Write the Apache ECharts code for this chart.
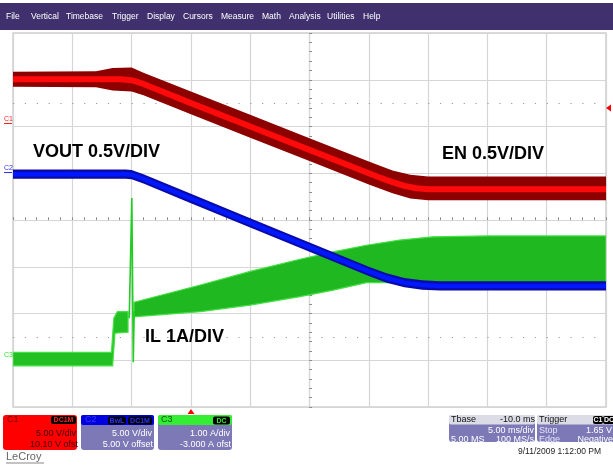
<!DOCTYPE html>
<html><head><meta charset="utf-8">
<script src="https://cdn.jsdelivr.net/npm/echarts@6/dist/echarts.min.js"></script>
<style>html,body{margin:0;padding:0;background:#fff}#c{width:613px;height:466px}</style>
</head><body><div id="c"></div>
<script>
// ---------- DATA (time in ms, vertical in screen divisions) ----------
const timeMin = -15, timeMax = 35, timeStep = 5;   // 5 ms/div, 10 divisions
const divMin = -4, divMax = 4, divStep = 1;         // 8 vertical divisions

// EN (C1, red)
const enCenter = [[-15,3.01],[-6,3.01],[-5,2.99],[-4,2.91],[0,2.5],[5,2.0],[10,1.5],[15,1.0],[16,0.9],[17,0.81],[18,0.73],[19,0.68],[20,0.66],[35,0.66]];
const enTop    = [[-15,3.17],[-8,3.18],[-6.6,3.25],[-5,3.26],[-4,3.15],[0,2.75],[5,2.25],[10,1.75],[15,1.25],[17,1.06],[18.5,0.97],[20,0.93],[35,0.93]];
const enBottom = [[-15,2.85],[-8,2.84],[-6.6,2.77],[-5,2.75],[-4,2.67],[0,2.26],[5,1.76],[10,1.26],[15,0.76],[17,0.57],[18.5,0.46],[20,0.42],[35,0.42]];

// VOUT (C2, blue)
const voutCenter = [[-15,0.98],[-5.5,0.98],[-5,0.97],[-4,0.88],[0,0.46],[5,-0.06],[10,-0.58],[15,-1.1],[16.5,-1.24],[18,-1.34],[19.5,-1.39],[21,-1.41],[35,-1.41]];
const voutTop    = [[-15,1.08],[-5.5,1.08],[-5,1.07],[-4,0.98],[0,0.56],[5,0.04],[10,-0.48],[15,-1.0],[16.5,-1.14],[18,-1.24],[19.5,-1.29],[21,-1.31],[35,-1.31]];
const voutBottom = [[-15,0.88],[-5.5,0.88],[-5,0.87],[-4,0.78],[0,0.36],[5,-0.16],[10,-0.68],[15,-1.2],[16.5,-1.34],[18,-1.44],[19.5,-1.49],[21,-1.51],[35,-1.51]];

// IL (C3, green)
const ilStepTop    = [[-15,-2.83],[-6.7,-2.83],[-6.5,-2.1],[-6.2,-1.96],[-5.3,-1.96]];
const ilStepBottom = [[-15,-3.12],[-6.6,-3.12],[-6.4,-2.42],[-5.3,-2.4]];
const ilSpike      = [[-5.2,-2.1],[-4.98,0.47],[-4.86,-3.04],[-4.78,-1.95]];
const ilTop        = [[-4.8,-1.76],[0.8,-1.39],[5,-1.1],[9.2,-0.84],[12,-0.68],[14.8,-0.54],[17.6,-0.43],[20.4,-0.36],[25,-0.34],[35,-0.34]];
const ilBottom     = [[-4.8,-2.07],[0.8,-1.96],[5,-1.82],[9.2,-1.64],[12,-1.5],[14.8,-1.34],[16.5,-1.34],[35,-1.34]];

// Texts
const menuItems = ['File','Vertical','Timebase','Trigger','Display','Cursors','Measure','Math','Analysis','Utilities','Help'];
const labelVout = 'VOUT 0.5V/DIV', labelEn = 'EN 0.5V/DIV', labelIl = 'IL 1A/DIV';
const c1Lines = ['5.00 V/div','10.10 V ofst'];
const c2Lines = ['5.00 V/div','5.00 V offset'];
const c3Lines = ['1.00 A/div','-3.000 A ofst'];
const tbaseHead = ['Tbase','-10.0 ms'], tbaseLines = ['5.00 ms/div','5.00 MS','100 MS/s'];
const trigHead = 'Trigger', trigLines = [['Stop','1.65 V'],['Edge','Negative']];
const dateText = '9/11/2009 1:12:00 PM';

// ---------- LAYOUT ----------
const FONT = '"Liberation Sans", Arial, sans-serif';
const menuX = [6,31,66,112,147,183,221,262,289,327,363];
const LAV = '#7c79b6';

function T(x,y,s,fill,size,align,weight){
  return {type:'text', x:x, y:y, z:100, silent:true, style:{text:s, fill:fill, font:(weight||'normal')+' '+size+'px '+FONT,
    textAlign:align||'left', align:align||'left', textVerticalAlign:'middle', verticalAlign:'middle'}};
}
function R(x,y,w,h,fill,r,stroke){
  return {type:'rect', z:90, silent:true, shape:{x:x,y:y,width:w,height:h,r:r||0}, style:{fill:fill, stroke:stroke||null, lineWidth:1}};
}
function pill(x,y,w,s,color){
  return [R(x,y,w,8,'#000',2), T(x+w/2,y+4.3,s,color,7,'center','bold')];
}

const g = [];
// menu bar
g.push(R(0,3,613,27,'#40306e'));
menuItems.forEach((m,i)=>g.push(T(menuX[i],17,m,'#ffffff',8.5,'left')));
// annotations
g.push(T(33,152,labelVout,'#000',18,'left','bold'));
g.push(T(442,154,labelEn,'#000',18,'left','bold'));
g.push(T(145,337,labelIl,'#000',18,'left','bold'));
// channel markers
g.push(T(4,119,'C1','#ff2020',7,'left'));
g.push({type:'line',z:100,silent:true,shape:{x1:4,y1:123.5,x2:12,y2:123.5},style:{stroke:'#ff2020',lineWidth:1}});
g.push(T(4,168,'C2','#3030ff',7,'left'));
g.push({type:'line',z:100,silent:true,shape:{x1:4,y1:172.5,x2:12,y2:172.5},style:{stroke:'#3030ff',lineWidth:1}});
g.push(T(4,355,'C3','#30e030',7,'left'));
// trigger markers
g.push({type:'polygon',z:100,silent:true,shape:{points:[[606,108],[611,104.5],[611,111.5]]},style:{fill:'#ff0000'}});
g.push({type:'polygon',z:100,silent:true,shape:{points:[[191,409],[187.5,414],[194.5,414]]},style:{fill:'#ff0000'}});

// C1 box
g.push(R(3,415,74,35,'#ff0000',3));
g.push(T(7,420,'C1','#7a0000',9,'left'));
g.push(...pill(51,416,25,'DC1M','#ff2020'));
g.push(T(76,434,c1Lines[0],'#3a0000',9,'right'));
g.push(T(78,444.5,c1Lines[1],'#3a0000',9,'right'));
// C2 box
g.push(R(81,415,73,35,LAV,3));
g.push(R(81,415,73,10,'#0000e0',2));
g.push(T(85,420,'C2','#3a3aff',9,'left'));
g.push(...pill(108,416.5,18,'BwL','#3030ff'));
g.push(...pill(128,416.5,24,'DC1M','#3030ff'));
g.push(T(152,434,c2Lines[0],'#ffffff',9,'right'));
g.push(T(153,444.5,c2Lines[1],'#ffffff',9,'right'));
// C3 box
g.push(R(158,415,74,35,LAV,3));
g.push(R(158,415,74,10,'#33ee33',2));
g.push(T(161,420,'C3','#0a5a0a',9,'left'));
g.push(...pill(213,416.5,17,'DC','#33ee33'));
g.push(T(230,434,c3Lines[0],'#ffffff',9,'right'));
g.push(T(231,444.5,c3Lines[1],'#ffffff',9,'right'));
// Tbase box
g.push(R(449,415,86,27,LAV,3));
g.push(R(449,415,86,9.5,'#dcdce6',2));
g.push(T(451,420,tbaseHead[0],'#111',9,'left'));
g.push(T(535,420,tbaseHead[1],'#111',9,'right'));
g.push(T(534,431,tbaseLines[0],'#ffffff',9,'right'));
g.push(T(451,440,tbaseLines[1],'#ffffff',9,'left'));
g.push(T(534,440,tbaseLines[2],'#ffffff',9,'right'));
// Trigger box
g.push(R(537,415,80,27,LAV,3));
g.push(R(537,415,80,9.5,'#dcdce6',2));
g.push(T(539,420,trigHead,'#111',9,'left'));
g.push(...pill(593,416,10,'C1','#ffffff'));
g.push(...pill(603,416,12,'DC','#ffffff'));
g.push(T(539,431,trigLines[0][0],'#e6e4ff',9,'left'));
g.push(T(612,431,trigLines[0][1],'#ffffff',9,'right'));
g.push(T(539,440,trigLines[1][0],'#e6e4ff',9,'left'));
g.push(T(613,440,trigLines[1][1],'#ffffff',9,'right'));
// footer
g.push(T(601,452,dateText,'#222',8.5,'right'));
g.push(T(6,457,'LeCroy','#666',11,'left'));
g.push({type:'line',z:100,silent:true,shape:{x1:6,y1:463,x2:44,y2:463},style:{stroke:'#888',lineWidth:1}});

// ---------- SERIES ----------
function band(top,bottom,fill,stroke,z){
  return {type:'custom', coordinateSystem:'cartesian2d', xAxisIndex:0, yAxisIndex:0, data:[[timeMin,0]], z:z, silent:true, clip:true,
    renderItem:function(params,api){
      const pts = top.map(p=>api.coord(p)).concat(bottom.slice().reverse().map(p=>api.coord(p)));
      return {type:'polygon', shape:{points:pts}, style:{fill:fill, stroke:stroke, lineWidth:stroke?1.2:0}};
    }};
}
function line(data,color,width,z){
  return {type:'line', data:data, xAxisIndex:0, yAxisIndex:0, showSymbol:false, symbol:'none', z:z, silent:true,
    lineStyle:{color:color,width:width}, animation:false};
}

const series = [
  band(ilStepTop, ilStepBottom, '#22c022', '#44e044', 3),
  band(ilTop, ilBottom, '#20b820', '#44e044', 3),
  line(ilSpike, '#22cc22', 1.6, 4),
  band(voutTop, voutBottom, '#0a0aa8', null, 5),
  line(voutCenter, '#0018ff', 4.5, 6),
  band(enTop, enBottom, '#8c0000', null, 7),
  line(enCenter, '#ff0a0a', 6, 8),
  {type:'line', data:[], xAxisIndex:0, yAxisIndex:0, silent:true,
    markLine:{silent:true, symbol:'none', label:{show:false},
      lineStyle:{color:'#9a9a9a', width:1.2, type:[1.2,10.66]},
      data:[{yAxis:2.5},{yAxis:-2.5}]}}
];

const tickAxisCommon = {show:true, axisLabel:{show:false}, splitLine:{show:false}};
const option = {
  animation:false,
  backgroundColor:'#ffffff',
  grid:{left:13, top:33, width:593, height:374, show:true, borderColor:'#cfcfcf', borderWidth:1.5, backgroundColor:'transparent'},
  xAxis:[
    {type:'value', min:timeMin, max:timeMax, interval:timeStep, axisLabel:{show:false}, axisTick:{show:false}, axisLine:{show:false},
     splitLine:{show:true, lineStyle:{color:'#d6d6d6', width:1.2}}},
    Object.assign({type:'value', min:timeMin, max:timeMax, interval:timeStep, position:'bottom',
     axisLine:{show:true, onZero:true, onZeroAxisIndex:0, lineStyle:{color:'#d6d6d6',width:1.2}},
     axisTick:{show:true, inside:true, length:2.5, lineStyle:{color:'#8a8a8a'}},
     minorTick:{show:true, splitNumber:5, length:2.5, lineStyle:{color:'#8a8a8a'}}}, tickAxisCommon),
    Object.assign({type:'value', min:timeMin, max:timeMax, interval:timeStep, position:'top',
     axisLine:{show:false, onZero:true, onZeroAxisIndex:0},
     axisTick:{show:true, inside:false, length:2.5, lineStyle:{color:'#8a8a8a'}},
     minorTick:{show:true, splitNumber:5, length:2.5, lineStyle:{color:'#8a8a8a'}}}, tickAxisCommon),
    {type:'value', min:-25, max:25, show:false, axisLine:{onZero:false}}
  ],
  yAxis:[
    {type:'value', min:divMin, max:divMax, interval:divStep, axisLabel:{show:false}, axisTick:{show:false}, axisLine:{show:false},
     splitLine:{show:true, lineStyle:{color:'#d6d6d6', width:1.2}}},
    Object.assign({type:'value', min:divMin, max:divMax, interval:divStep, position:'left',
     axisLine:{show:true, onZero:true, onZeroAxisIndex:3, lineStyle:{color:'#d6d6d6',width:1.2}},
     axisTick:{show:true, inside:true, length:2.5, lineStyle:{color:'#8a8a8a'}},
     minorTick:{show:true, splitNumber:5, length:2.5, lineStyle:{color:'#8a8a8a'}}}, tickAxisCommon),
    Object.assign({type:'value', min:divMin, max:divMax, interval:divStep, position:'right',
     axisLine:{show:false, onZero:true, onZeroAxisIndex:3},
     axisTick:{show:true, inside:false, length:2.5, lineStyle:{color:'#8a8a8a'}},
     minorTick:{show:true, splitNumber:5, length:2.5, lineStyle:{color:'#8a8a8a'}}}, tickAxisCommon)
  ],
  series:series,
  graphic:{elements:g}
};
const chart = echarts.init(document.getElementById('c'), null, {renderer:'canvas', width:613, height:466});
chart.setOption(option);
</script>
</body></html>
